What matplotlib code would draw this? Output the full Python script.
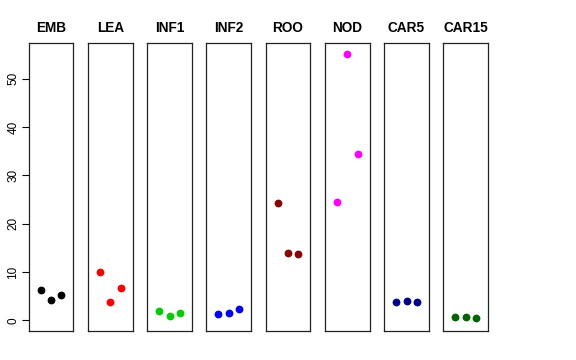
import matplotlib
matplotlib.use('Agg')
import matplotlib.pyplot as plt

plt.rcParams['font.family'] = ['Liberation Sans', 'DejaVu Sans']

tissues = ['EMB', 'LEA', 'INF1', 'INF2', 'ROO', 'NOD', 'CAR5', 'CAR15']
colors = ['black', 'red', '#00CD00', 'blue', '#8B0000', 'magenta', '#00008B', '#006400']
reps = [1, 2, 3]

emb = [6.3, 4.3, 5.2]
lea = [10.1, 3.9, 6.8]
inf1 = [2.0, 0.9, 1.5]
inf2 = [1.4, 1.6, 2.3]
roo = [24.3, 14.0, 13.8]
nod = [24.5, 55.2, 34.4]
car5 = [3.8, 4.1, 3.7]
car15 = [0.8, 0.8, 0.5]
values = [emb, lea, inf1, inf2, roo, nod, car5, car15]

fig = plt.figure(figsize=(5.76, 3.6), dpi=100)
W, H = 576.0, 360.0
left0 = 28.7
step = 59.25
pw = 44.7
top = 43.0
bottom = 331.0

for i, (name, col, vals) in enumerate(zip(tissues, colors, values)):
    l = left0 + i * step
    ax = fig.add_axes([l / W, 1 - bottom / H, pw / W, (bottom - top) / H])
    ax.plot(reps, vals, 'o', color=col, ms=4.6, mec=col)
    ax.set_xlim(-0.16, 4.16)
    ax.set_ylim(-2.2, 57.4)
    ax.set_xticks([])
    for s in ax.spines.values():
        s.set_linewidth(0.9)
        s.set_color('#222222')
    ax.set_title(name, fontsize=9.8, fontweight='bold', pad=8)
    if i == 0:
        ax.set_yticks([0, 10, 20, 30, 40, 50])
        ax.tick_params(axis='y', length=4.8, width=0.8, labelsize=8.5, pad=2)
        for t in ax.get_yticklabels():
            t.set_rotation(90)
            t.set_va('center')
    else:
        ax.set_yticks([])

fig.savefig('out.png', dpi=100)
